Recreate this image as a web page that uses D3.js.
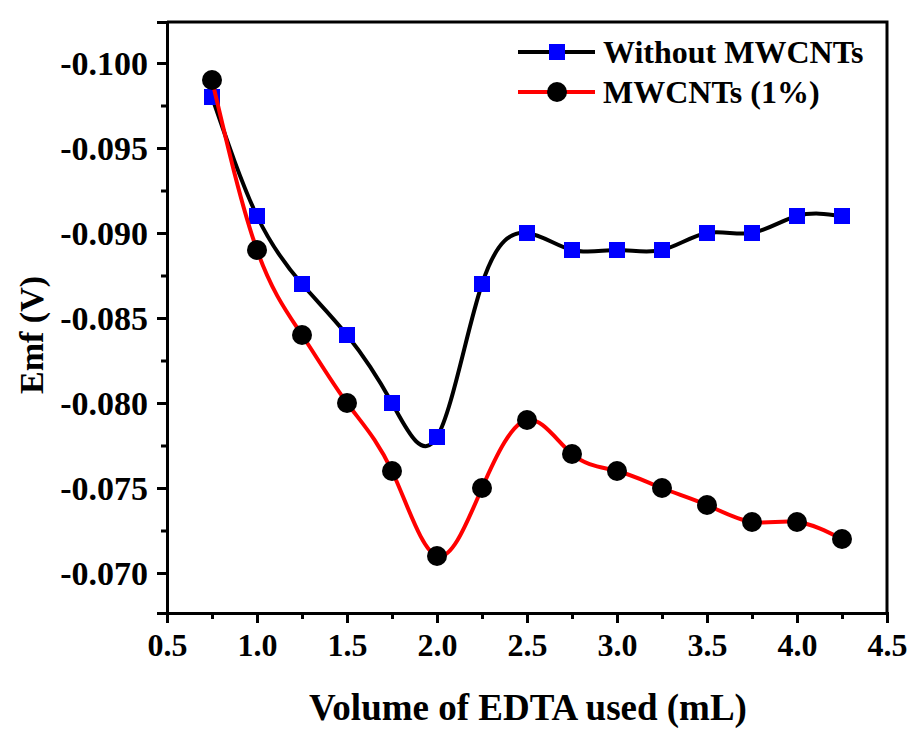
<!DOCTYPE html>
<html>
<head>
<meta charset="utf-8">
<script src="https://cdn.jsdelivr.net/npm/d3@7"></script>
<style>
  html, body { margin: 0; padding: 0; background: #fff; }
  svg { display: block; }
</style>
</head>
<body>
<svg id="chart" width="913" height="741"></svg>
<script>
// EDTA volume (mL)
const volume = [0.75, 1.0, 1.25, 1.5, 1.75, 2.0, 2.25, 2.5, 2.75, 3.0, 3.25, 3.5, 3.75, 4.0, 4.25];
// Emf (V) without MWCNTs
const emfWithout = [-0.098, -0.091, -0.087, -0.084, -0.080, -0.078, -0.087, -0.090, -0.089, -0.089, -0.089, -0.090, -0.090, -0.091, -0.091];
// Emf (V) with 1% MWCNTs
const emfMwcnt = [-0.099, -0.089, -0.084, -0.080, -0.076, -0.071, -0.075, -0.079, -0.077, -0.076, -0.075, -0.074, -0.073, -0.073, -0.072];

const seriesNames = ["Without MWCNTs", "MWCNTs (1%)"];
const xTicks = [0.5, 1.0, 1.5, 2.0, 2.5, 3.0, 3.5, 4.0, 4.5];
const xTickLabels = ["0.5", "1.0", "1.5", "2.0", "2.5", "3.0", "3.5", "4.0", "4.5"];
const xMinorTicks = [0.75, 1.25, 1.75, 2.25, 2.75, 3.25, 3.75, 4.25];
const yTicks = [-0.100, -0.095, -0.090, -0.085, -0.080, -0.075, -0.070];
const yTickLabels = ["-0.100", "-0.095", "-0.090", "-0.085", "-0.080", "-0.075", "-0.070"];
const yMinorTicks = [-0.0975, -0.0925, -0.0875, -0.0825, -0.0775, -0.0725];

const FONT = "'Liberation Serif', 'Times New Roman', serif";

const svg = d3.select("#chart");
const plotL = 167, plotR = 887, plotT = 22, plotB = 613;

const x = d3.scaleLinear().domain([0.5, 4.5]).range([plotL, plotR]);
// More negative potentials plotted upward
const y = d3.scaleLinear().domain([-0.067647, -0.102412]).range([plotB, plotT]);

// Frame (top and right edges)
svg.append("path")
  .attr("d", `M${plotL},${plotT}H${plotR}V${plotB}`)
  .attr("fill", "none").attr("stroke", "#000").attr("stroke-width", 3);

// X axis
const xAxis = svg.append("g").attr("transform", `translate(0,${plotB})`);
xAxis.call(d3.axisBottom(x).tickValues(xTicks).tickSize(10).tickPadding(10)
  .tickFormat((d, i) => xTickLabels[i]));
const xMinor = svg.append("g").attr("transform", `translate(0,${plotB})`);
xMinor.call(d3.axisBottom(x).tickValues(xMinorTicks).tickSize(6).tickFormat(""));

// Y axis
const yAxis = svg.append("g").attr("transform", `translate(${plotL},0)`);
yAxis.call(d3.axisLeft(y).tickValues(yTicks).tickSize(10).tickPadding(9)
  .tickFormat((d, i) => yTickLabels[i]));
const yMinor = svg.append("g").attr("transform", `translate(${plotL},0)`);
yMinor.call(d3.axisLeft(y).tickValues(yMinorTicks).tickSize(6).tickFormat(""));

yMinor.select(".domain").remove();
xMinor.select(".domain").remove();
svg.selectAll(".domain").attr("stroke", "#000").attr("stroke-width", 3);
svg.selectAll(".tick line").attr("stroke", "#000").attr("stroke-width", 3);
xAxis.selectAll(".tick text").attr("font-family", FONT).attr("font-weight", "bold")
  .attr("font-size", 32).attr("fill", "#000");
yAxis.selectAll(".tick text").attr("font-family", FONT).attr("font-weight", "bold")
  .attr("font-size", 34).attr("fill", "#000").attr("dy", "0.34em");

// Axis titles
svg.append("text")
  .attr("x", 528).attr("y", 720)
  .attr("text-anchor", "middle")
  .attr("font-family", FONT).attr("font-weight", "bold").attr("font-size", 37)
  .text("Volume of EDTA used (mL)");
svg.append("text")
  .attr("transform", "translate(43,335) rotate(-90)")
  .attr("text-anchor", "middle")
  .attr("font-family", FONT).attr("font-weight", "bold").attr("font-size", 34)
  .text("Emf (V)");

const line = d3.line().curve(d3.curveNatural).x(d => x(d[0])).y(d => y(d[1]));
const pts1 = volume.map((v, i) => [v, emfWithout[i]]);
const pts2 = volume.map((v, i) => [v, emfMwcnt[i]]);

// Series 1: black curve, blue squares
svg.append("path").datum(pts1).attr("d", line)
  .attr("fill", "none").attr("stroke", "#000").attr("stroke-width", 4);
const sq = 16;
svg.append("g").selectAll("rect").data(pts1).join("rect")
  .attr("x", d => x(d[0]) - sq / 2).attr("y", d => y(d[1]) - sq / 2)
  .attr("width", sq).attr("height", sq).attr("fill", "#0000ff");

// Series 2: red curve, black circles
svg.append("path").datum(pts2).attr("d", line)
  .attr("fill", "none").attr("stroke", "#ff0000").attr("stroke-width", 4);
svg.append("g").selectAll("circle").data(pts2).join("circle")
  .attr("cx", d => x(d[0])).attr("cy", d => y(d[1])).attr("r", 10).attr("fill", "#000");

// Legend
const legend = svg.append("g");
const legendRows = [
  { name: seriesNames[0], stroke: "#000", marker: "square" },
  { name: seriesNames[1], stroke: "#ff0000", marker: "circle" }
];
legendRows.forEach((r, i) => {
  const ly = 52 + i * 40;
  legend.append("line").attr("x1", 518).attr("x2", 595).attr("y1", ly).attr("y2", ly)
    .attr("stroke", r.stroke).attr("stroke-width", 4);
  if (r.marker === "square") {
    legend.append("rect").attr("x", 557 - sq / 2).attr("y", ly - sq / 2)
      .attr("width", sq).attr("height", sq).attr("fill", "#0000ff");
  } else {
    legend.append("circle").attr("cx", 557).attr("cy", ly).attr("r", 10).attr("fill", "#000");
  }
  legend.append("text").attr("x", 603).attr("y", ly).attr("dy", "0.35em")
    .attr("font-family", FONT).attr("font-weight", "bold").attr("font-size", 32)
    .text(r.name);
});
</script>
</body>
</html>
